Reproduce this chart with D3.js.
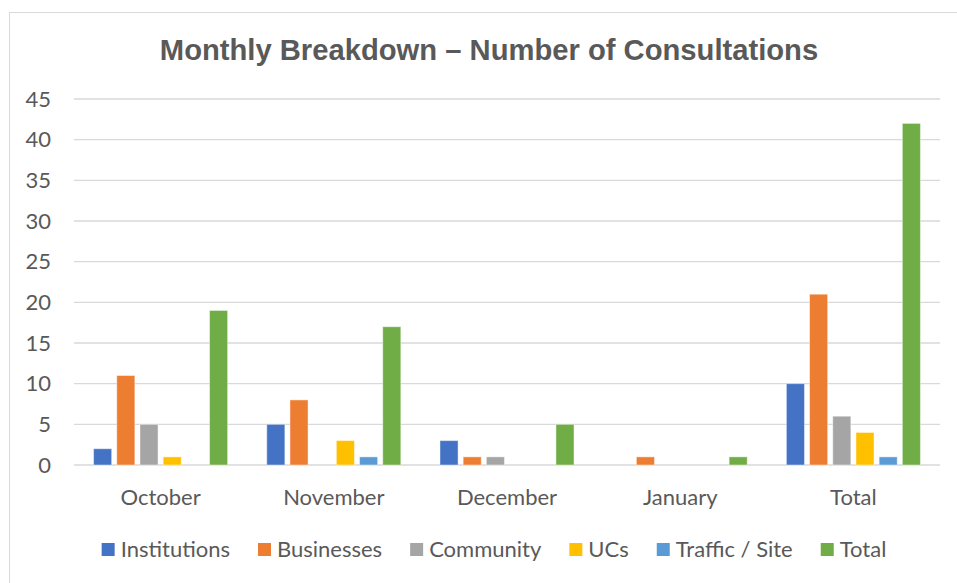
<!DOCTYPE html>
<html>
<head>
<meta charset="utf-8">
<script src="https://cdn.jsdelivr.net/npm/d3@7"></script>
<style>
  body { margin: 0; background: #fff; }
  svg { display: block; }
</style>
</head>
<body>
<div id="chart"></div>
<script>
const categories = ["October", "November", "December", "January", "Total"];
const seriesNames = ["Institutions", "Businesses", "Community", "UCs", "Traffic / Site", "Total"];
const institutions = [2, 5, 3, 0, 10];
const businesses = [11, 8, 1, 1, 21];
const community = [5, 0, 1, 0, 6];
const ucs = [1, 3, 0, 0, 4];
const trafficSite = [0, 1, 0, 0, 1];
const totals = [19, 17, 5, 1, 42];
const yTicks = [0, 5, 10, 15, 20, 25, 30, 35, 40, 45];
const colors = ["#4472C4", "#ED7D31", "#A5A5A5", "#FFC000", "#5B9BD5", "#70AD47"];

const seriesValues = [institutions, businesses, community, ucs, trafficSite, totals];

const width = 957;
const height = 583;
const textColor = "#595959";
const gridColor = "#D9D9D9";
const labelFont = "Lato, 'Open Sans', sans-serif";
const labelSize = "22px";

const svg = d3.select("#chart")
    .append("svg")
    .attr("width", width)
    .attr("height", height);

// chart frame
svg.append("rect")
    .attr("x", 9.5)
    .attr("y", 12.5)
    .attr("width", 1000)
    .attr("height", 1000)
    .attr("fill", "#fff")
    .attr("stroke", gridColor)
    .attr("stroke-width", 1);

const plot = { left: 74, right: 940, top: 99, bottom: 465 };

const x0 = d3.scaleBand()
    .domain(categories)
    .range([plot.left, plot.right])
    .paddingInner(0.226)
    .paddingOuter(0.113);

const x1 = d3.scaleBand()
    .domain(seriesNames)
    .range([0, x0.bandwidth()])
    .paddingInner(0.22)
    .paddingOuter(0);

const y = d3.scaleLinear()
    .domain([0, 45])
    .range([plot.bottom, plot.top]);

// gridlines
svg.append("g")
    .selectAll("line")
    .data(yTicks)
    .enter()
    .append("line")
    .attr("x1", plot.left)
    .attr("x2", plot.right)
    .attr("y1", d => y(d))
    .attr("y2", d => y(d))
    .attr("stroke", gridColor)
    .attr("stroke-width", 1.3);

// y tick labels
svg.append("g")
    .selectAll("text")
    .data(yTicks)
    .enter()
    .append("text")
    .attr("x", 51)
    .attr("y", d => y(d))
    .attr("dy", "0.35em")
    .attr("text-anchor", "end")
    .attr("fill", textColor)
    .style("font-family", labelFont)
    .style("font-size", labelSize)
    .text(d => d);

// bars
const barData = [];
categories.forEach((c, i) => {
    seriesNames.forEach((s, j) => {
        barData.push({ category: c, series: s, value: seriesValues[j][i], color: colors[j] });
    });
});

svg.append("g")
    .selectAll("rect")
    .data(barData)
    .enter()
    .append("rect")
    .attr("x", d => x0(d.category) + x1(d.series))
    .attr("y", d => y(d.value))
    .attr("width", x1.bandwidth())
    .attr("height", d => y(0) - y(d.value))
    .attr("fill", d => d.color)
    .attr("stroke", d => d.value > 0 ? "#fff" : "none")
    .attr("stroke-opacity", 0.45)
    .attr("stroke-width", 1);

// category labels
svg.append("g")
    .selectAll("text")
    .data(categories)
    .enter()
    .append("text")
    .attr("x", d => x0(d) + x0.bandwidth() / 2)
    .attr("y", 505)
    .attr("text-anchor", "middle")
    .attr("fill", textColor)
    .style("font-family", labelFont)
    .style("font-size", labelSize)
    .text(d => d);

// title
svg.append("text")
    .attr("x", 489)
    .attr("y", 60)
    .attr("text-anchor", "middle")
    .attr("fill", textColor)
    .style("font-family", "'Liberation Sans', Arial, sans-serif")
    .style("font-weight", "bold")
    .style("font-size", "29.2px")
    .text("Monthly Breakdown \u2013 Number of Consultations");

// legend
const legend = svg.append("g");
const items = legend.selectAll("g")
    .data(seriesNames)
    .enter()
    .append("g");

items.append("rect")
    .attr("x", 0)
    .attr("y", 543)
    .attr("width", 13)
    .attr("height", 13)
    .attr("fill", (d, i) => colors[i]);

items.append("text")
    .attr("x", 19)
    .attr("y", 557)
    .attr("fill", textColor)
    .style("font-family", labelFont)
    .style("font-size", labelSize)
    .text(d => d);

let offset = 0;
const positions = [];
items.each(function() {
    const w = 19 + d3.select(this).select("text").node().getComputedTextLength();
    positions.push(offset);
    offset += w + 28;
});
const legendWidth = offset - 28;
const legendStart = 494 - legendWidth / 2;
items.attr("transform", (d, i) => `translate(${legendStart + positions[i]},0)`);
</script>
</body>
</html>
